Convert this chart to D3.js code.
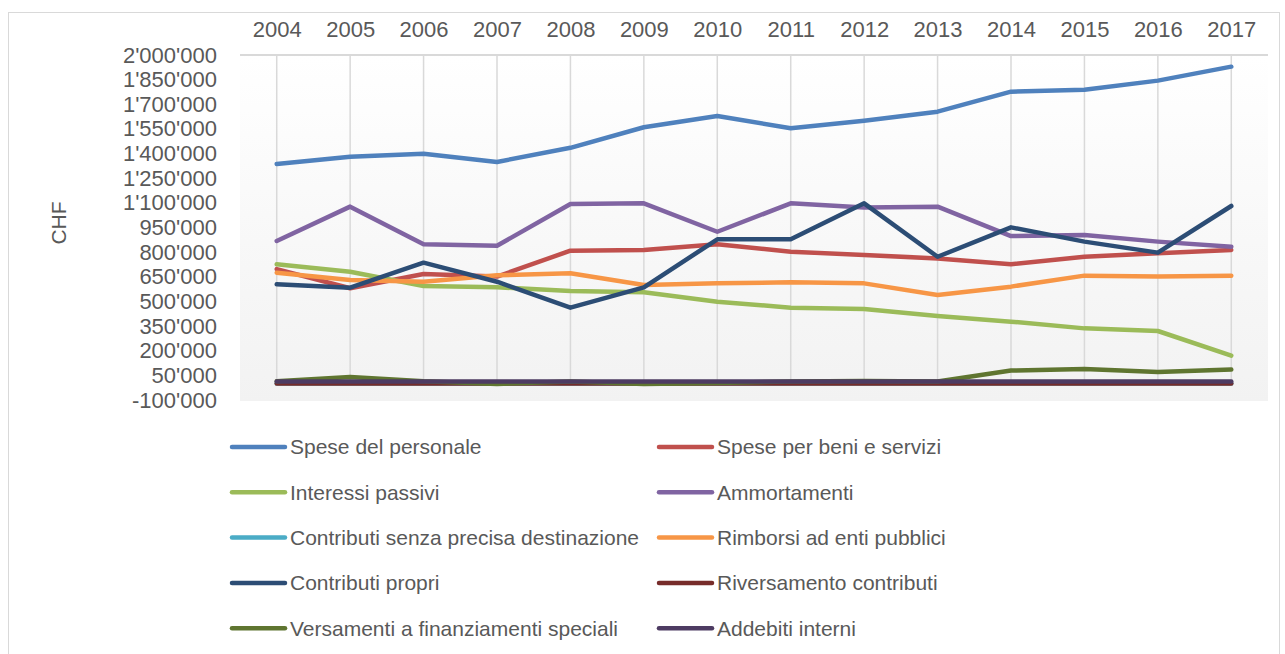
<!DOCTYPE html>
<html lang="it">
<head>
<meta charset="UTF-8">
<script src="https://d3js.org/d3.v7.min.js"></script>
<style>
  body { margin: 0; background: #ffffff; }
  #plot { position: absolute; left: 0; top: 0; width: 1285px; height: 654px; }
  text { font-family: "Liberation Sans", Arial, sans-serif; fill: #595959; }
</style>
</head>
<body>
<div id="plot"></div>
<script>
// chart values (CHF)
const years = ["2004","2005","2006","2007","2008","2009","2010","2011","2012","2013","2014","2015","2016","2017"];
const spesePersonale   = [1337000,1381000,1399000,1349000,1435000,1560000,1629000,1554000,1600000,1655000,1777000,1789000,1844000,1929000];
const speseBeni        = [697000,580000,667000,651000,809000,813000,848000,803000,783000,762000,726000,772000,793000,813000];
const interessiPassivi = [726000,681000,594000,586000,563000,556000,498000,462000,454000,411000,377000,336000,320000,170000];
const ammortamenti     = [868000,1077000,848000,839000,1093000,1097000,924000,1097000,1071000,1077000,898000,904000,864000,833000];
const contributiSenza  = [0,0,0,0,0,0,0,0,0,0,0,0,0,0];
const rimborsi         = [675000,630000,620000,659000,671000,600000,610000,616000,610000,539000,590000,657000,651000,657000];
const contributiPropri = [604000,584000,736000,620000,462000,586000,878000,878000,1097000,772000,951000,864000,797000,1081000];
const riversamento     = [0,0,0,0,0,0,0,0,0,0,0,0,0,0];
const versamenti       = [14000,40000,14000,-2000,12000,-2000,4000,12000,16000,12000,79000,89000,71000,85000];
const addebiti         = [12000,12000,12000,12000,12000,12000,12000,12000,12000,12000,12000,12000,12000,12000];

const seriesNames = ["Spese del personale","Spese per beni e servizi","Interessi passivi","Ammortamenti",
  "Contributi senza precisa destinazione","Rimborsi ad enti pubblici","Contributi propri",
  "Riversamento contributi","Versamenti a finanziamenti speciali","Addebiti interni"];
const seriesValues = [spesePersonale, speseBeni, interessiPassivi, ammortamenti, contributiSenza,
  rimborsi, contributiPropri, riversamento, versamenti, addebiti];
const seriesColors = ["#4f81bd","#c0504d","#9bbb59","#8064a2","#4bacc6","#f79646","#2c4d75","#772c2a","#5f7530","#4d3b62"];
const yTicks = d3.range(-100000, 2000001, 150000);

const width = 1285, height = 654;
const plot = {left: 240, right: 1268, top: 55, bottom: 400};

const svg = d3.select("#plot").append("svg")
    .attr("width", width)
    .attr("height", height);

// chart border
svg.append("rect")
    .attr("x", 8.5).attr("y", 12.5)
    .attr("width", 1271).attr("height", 660)
    .attr("fill", "none")
    .attr("stroke", "#d9d9d9");

// plot area gradient
const grad = svg.append("defs").append("linearGradient")
    .attr("id", "bg").attr("x1", 0).attr("y1", 0).attr("x2", 0).attr("y2", 1);
grad.append("stop").attr("offset", "0%").attr("stop-color", "#ffffff");
grad.append("stop").attr("offset", "100%").attr("stop-color", "#f2f2f2");

svg.append("rect")
    .attr("x", plot.left).attr("y", plot.top)
    .attr("width", plot.right - plot.left).attr("height", plot.bottom - plot.top + 1)
    .attr("fill", "url(#bg)");

// scales
const x = d3.scalePoint()
    .domain(years)
    .range([plot.left, plot.right])
    .padding(0.5);

const y = d3.scaleLinear()
    .domain([-100000, 2000000])
    .range([plot.bottom, plot.top]);

const locale = d3.formatLocale({decimal: ".", thousands: "'", grouping: [3], currency: ["", ""], minus: "-"});
const fmt = locale.format(",");

// drop lines (from axis down to the lowest point)
svg.append("g").selectAll("line")
    .data(years)
    .join("line")
      .attr("x1", d => x(d)).attr("x2", d => x(d))
      .attr("y1", y(2000000))
      .attr("y2", (d, i) => y(d3.min(seriesValues, s => s[i])))
      .attr("stroke", "#d9d9d9")
      .attr("stroke-width", 1.5);

// top category axis
const xAxisGroup = svg.append("g")
    .attr("transform", `translate(0, ${plot.top})`)
    .call(d3.axisTop(x).tickSize(0).tickPadding(18));
xAxisGroup.select(".domain").remove();
xAxisGroup.append("line")
    .attr("x1", plot.left).attr("x2", plot.right)
    .attr("stroke", "#d9d9d9").attr("stroke-width", 2);
xAxisGroup.selectAll("text")
    .style("font-size", "22px").attr("fill", "#595959");

// value axis
const yAxisGroup = svg.append("g")
    .attr("transform", `translate(${plot.left}, 0)`)
    .call(d3.axisLeft(y).tickValues(yTicks).tickFormat(fmt).tickSize(0).tickPadding(23));
yAxisGroup.select(".domain").remove();
yAxisGroup.selectAll("text")
    .style("font-size", "22px").attr("fill", "#595959");

svg.append("text")
    .attr("transform", "translate(66, 223) rotate(-90)")
    .attr("text-anchor", "middle")
    .style("font-size", "21px")
    .text("CHF");

// lines
const line = d3.line()
    .x((d, i) => x(years[i]))
    .y(d => y(d));

svg.append("g").selectAll("path")
    .data(seriesValues)
    .join("path")
      .attr("d", d => line(d))
      .attr("fill", "none")
      .attr("stroke", (d, i) => seriesColors[i])
      .attr("stroke-width", 4.5)
      .attr("stroke-linejoin", "round")
      .attr("stroke-linecap", "round");

// legend, two columns
const legend = svg.append("g").selectAll("g")
    .data(seriesNames)
    .join("g")
      .attr("transform", (d, i) => `translate(${i % 2 === 0 ? 232 : 659}, ${447 + Math.floor(i / 2) * 45.3})`);

legend.append("line")
    .attr("x1", 0).attr("x2", 53)
    .attr("stroke", (d, i) => seriesColors[i])
    .attr("stroke-width", 4.5)
    .attr("stroke-linecap", "round");

legend.append("text")
    .attr("x", 58)
    .attr("dy", "0.35em")
    .style("font-size", "21px")
    .text(d => d);
</script>
</body>
</html>
